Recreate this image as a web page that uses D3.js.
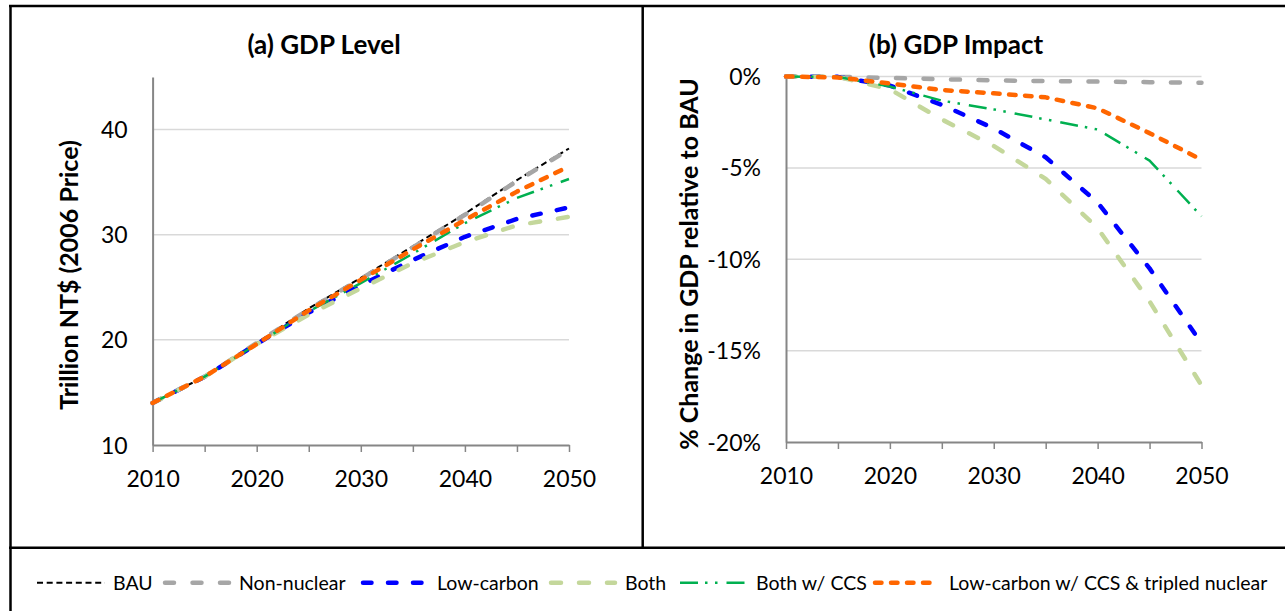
<!DOCTYPE html>
<html>
<head>
<meta charset="utf-8">
<script src="https://cdn.jsdelivr.net/npm/d3@7"></script>
<style>
  body { margin: 0; background: #fff; }
  svg { display: block; }
  text { font-family: Lato, "Open Sans", sans-serif; fill: #000; }
</style>
</head>
<body>
<svg id="chart" width="1285" height="611"></svg>
<script>
// ---- data ----
const years = [2010, 2015, 2020, 2025, 2030, 2035, 2040, 2045, 2050];
const seriesNames = ["BAU", "Non-nuclear", "Low-carbon", "Both", "Both w/ CCS", "Low-carbon w/ CCS & tripled nuclear"];

// GDP level, trillion NT$ (2006 price)
const levelBAU        = [14.0, 16.5, 19.7, 23.0, 25.9, 28.9, 32.0, 35.2, 38.2];
const levelNonNuclear = [14.0, 16.5, 19.7, 22.9, 25.8, 28.8, 31.9, 35.1, 38.1];
const levelLowCarbon  = [14.0, 16.5, 19.6, 22.6, 25.2, 27.6, 29.8, 31.5, 32.6];
const levelBoth       = [14.0, 16.5, 19.6, 22.4, 24.9, 27.3, 29.3, 30.9, 31.7];
const levelBothCCS    = [14.0, 16.5, 19.6, 22.7, 25.4, 28.2, 31.1, 33.5, 35.3];
const levelLowCarbonCCSNuc = [14.0, 16.5, 19.6, 22.8, 25.7, 28.6, 31.4, 34.1, 36.5];

// GDP impact, % change relative to BAU
const impactBAU        = [0, 0, 0, 0, 0, 0, 0, 0, 0];
const impactNonNuclear = [0, -0.02, -0.08, -0.15, -0.21, -0.25, -0.28, -0.31, -0.34];
const impactLowCarbon  = [0, -0.02, -0.5, -1.55, -2.84, -4.42, -6.9, -10.5, -14.6];
const impactBoth       = [0, -0.02, -0.7, -2.35, -3.8, -5.6, -8.3, -12.3, -16.9];
const impactBothCCS    = [0, -0.02, -0.55, -1.32, -1.8, -2.35, -2.9, -4.6, -7.65];
const impactLowCarbonCCSNuc = [0, -0.05, -0.38, -0.74, -0.92, -1.14, -1.74, -3.1, -4.55];

const levelTicks = [10, 20, 30, 40];
const impactTicks = [0, -5, -10, -15, -20];
const yearTicks = [2010, 2015, 2020, 2025, 2030, 2035, 2040, 2045, 2050];
const yearLabels = [2010, 2020, 2030, 2040, 2050];

// ---- line styles, in series order ----
const styles = [
  { color: "#000000", width: 2,   dash: "6,3.7",          cap: "butt"  },
  { color: "#A6A6A6", width: 4.5, dash: "9,18.5",         cap: "round" },
  { color: "#0000FF", width: 4.5, dash: "8.5,16.5",       cap: "round" },
  { color: "#C4D79B", width: 4.5, dash: "10,18",          cap: "round" },
  { color: "#00B050", width: 2.5, dash: "18,7,2.5,7.5,2.5,9", cap: "butt" },
  { color: "#FF6600", width: 4.5, dash: "6.5,9.5",        cap: "round" }
];

const levelSeries = [levelBAU, levelNonNuclear, levelLowCarbon, levelBoth, levelBothCCS, levelLowCarbonCCSNuc];
const impactSeries = [impactBAU, impactNonNuclear, impactLowCarbon, impactBoth, impactBothCCS, impactLowCarbonCCSNuc];

const svg = d3.select("#chart");
const AXIS = "#868686", GRID = "#D9D9D9";

// ---- frame ----
const frame = svg.append("g").attr("stroke", "#000").attr("stroke-width", 2.5);
frame.append("line").attr("x1", 9).attr("x2", 1285).attr("y1", 6).attr("y2", 6);
frame.append("line").attr("x1", 10.5).attr("x2", 10.5).attr("y1", 5).attr("y2", 611);
frame.append("line").attr("x1", 642.7).attr("x2", 642.7).attr("y1", 5).attr("y2", 548);
frame.append("line").attr("x1", 9).attr("x2", 1285).attr("y1", 547.7).attr("y2", 547.7);

function panel(opts) {
  const { x, y, yTicks, yFmt, data, title, titleX, yTitle, yTitleX, yTitleY, drawSeries } = opts;
  const g = svg.append("g");

  // gridlines
  g.append("g").selectAll("line").data(yTicks.filter(t => t !== y.domain()[0])).join("line")
    .attr("x1", x.range()[0]).attr("x2", x.range()[1])
    .attr("y1", d => y(d)).attr("y2", d => y(d))
    .attr("stroke", GRID).attr("stroke-width", 1.5);

  // y axis
  const ya = g.append("g").attr("transform", `translate(${x.range()[0]},0)`)
    .call(d3.axisLeft(y).tickValues(yTicks).tickSize(0).tickSizeOuter(0).tickPadding(25).tickFormat(yFmt));
  ya.select(".domain").attr("stroke", AXIS).attr("stroke-width", 2);
  ya.selectAll("text").attr("font-size", 23).attr("dy", "0.35em")
    .style("font-family", "Lato, sans-serif").attr("fill", "#000");

  // x axis
  const base = y.range()[0];
  const xa = g.append("g").attr("transform", `translate(0,${base})`)
    .call(d3.axisBottom(x).tickValues(yearTicks).tickSize(7).tickSizeOuter(0)
      .tickFormat(d => yearLabels.includes(d) ? String(d) : ""));
  xa.select(".domain").attr("stroke", AXIS).attr("stroke-width", 2);
  xa.selectAll(".tick line").attr("stroke", AXIS).attr("stroke-width", 1.5);
  xa.selectAll("text").attr("font-size", 23).attr("y", 34).attr("dy", "0.35em")
    .style("font-family", "Lato, sans-serif").attr("fill", "#000");

  // series
  const line = d3.line().x((d, i) => x(years[i])).y(d => y(d));
  g.append("g").selectAll("path").data(data).join("path")
    .attr("d", d => line(d))
    .attr("fill", "none")
    .attr("stroke", (d, i) => styles[drawSeries[i]].color)
    .attr("stroke-width", (d, i) => styles[drawSeries[i]].width)
    .attr("stroke-dasharray", (d, i) => styles[drawSeries[i]].dash)
    .attr("stroke-linecap", (d, i) => styles[drawSeries[i]].cap)
    .attr("stroke-linejoin", "round");

  // titles
  g.append("text").attr("x", titleX).attr("y", 54).attr("text-anchor", "middle")
    .attr("font-size", 26).attr("font-weight", "bold").text(title);
  g.append("text").attr("transform", `translate(${yTitleX},${yTitleY}) rotate(-90)`)
    .attr("text-anchor", "middle").attr("dy", "0.35em")
    .attr("font-size", 25).attr("font-weight", "bold").text(yTitle);
}

panel({
  x: d3.scaleLinear([2010, 2050], [152.6, 569]),
  y: d3.scaleLinear([10, 45], [445, 77]),
  yTicks: levelTicks,
  yFmt: d => String(d),
  data: levelSeries,
  drawSeries: [0, 1, 2, 3, 4, 5],
  title: "(a) GDP Level", titleX: 324,
  yTitle: "Trillion NT$ (2006 Price)", yTitleX: 69, yTitleY: 275
});

panel({
  x: d3.scaleLinear([2010, 2050], [786, 1201.5]),
  y: d3.scaleLinear([-20, 0], [442, 76.5]),
  yTicks: impactTicks,
  yFmt: d => `${d}%`,
  data: impactSeries.slice(1),
  drawSeries: [1, 2, 3, 4, 5],
  title: "(b) GDP Impact", titleX: 956,
  yTitle: "% Change in GDP relative to BAU", yTitleX: 689, yTitleY: 264
});

// ---- legend ----
const legendX = [37, 163, 361, 549, 680, 873];
const legendY = 582.7;
const leg = svg.append("g");
seriesNames.forEach((name, i) => {
  const s = styles[i];
  const x0 = legendX[i];
  leg.append("line").attr("x1", x0 + (s.cap === "round" ? 2 : 0)).attr("x2", x0 + 68 - (s.cap === "round" ? 2 : 0))
    .attr("y1", legendY).attr("y2", legendY)
    .attr("stroke", s.color).attr("stroke-width", s.width)
    .attr("stroke-dasharray", s.dash).attr("stroke-linecap", s.cap);
  leg.append("text").attr("x", x0 + 76).attr("y", legendY).attr("dy", "0.35em")
    .attr("font-size", 19.5).text(name);
});
</script>
</body>
</html>
